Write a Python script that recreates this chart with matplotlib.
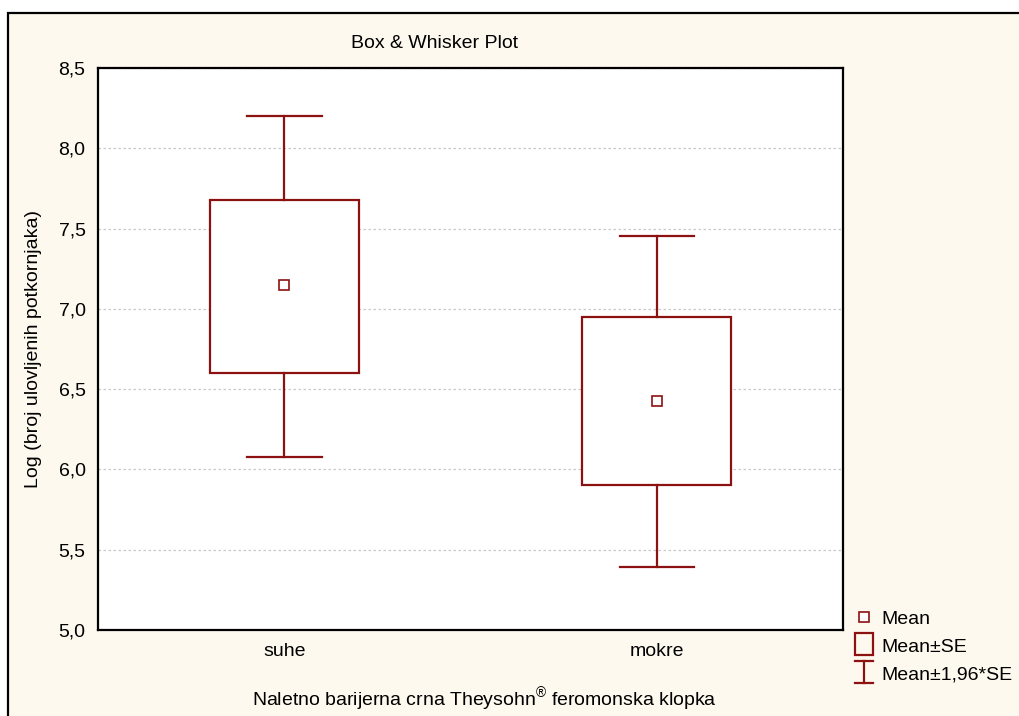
import matplotlib; matplotlib.use("Agg")
import matplotlib.pyplot as plt
from matplotlib.patches import Rectangle
from matplotlib.lines import Line2D

plt.rcParams["font.family"] = ["Liberation Sans", "DejaVu Sans"]
plt.rcParams["mathtext.fontset"] = "custom"
plt.rcParams["mathtext.rm"] = "Liberation Sans"

groups = ["suhe", "mokre"]
means = [7.149, 6.427]
se_low = [6.60, 5.90]
se_high = [7.68, 6.95]
ci_low = [6.08, 5.395]
ci_high = [8.20, 7.455]
yticks = [5.0, 5.5, 6.0, 6.5, 7.0, 7.5, 8.0, 8.5]

RED = "#8C1212"
CREAM = "#FEF9EE"
W, H = 1019, 716

fig = plt.figure(figsize=(W / 100, H / 100), dpi=100, facecolor="white")
# outer framed panel (behind the axes)
fig.add_artist(Rectangle((8 / W, -0.02), 1.05, 1 - 13 / H + 0.02, transform=fig.transFigure,
                         facecolor=CREAM, edgecolor="black", lw=1.6, zorder=-10))

ax = fig.add_axes([98 / W, 86 / H, (843 - 98) / W, (630 - 68) / H])
ax.set_facecolor("white")
x = range(1, len(groups) + 1)
bw, cw = 0.4, 0.2
for xi, m, sl, sh, cl, ch in zip(x, means, se_low, se_high, ci_low, ci_high):
    ax.add_patch(Rectangle((xi - bw / 2, sl), bw, sh - sl, facecolor="white", edgecolor=RED, lw=1.6, zorder=3))
    ax.plot([xi, xi], [sh, ch], color=RED, lw=1.6, zorder=3)
    ax.plot([xi, xi], [cl, sl], color=RED, lw=1.6, zorder=3)
    ax.plot([xi - cw / 2, xi + cw / 2], [ch, ch], color=RED, lw=1.6, zorder=3)
    ax.plot([xi - cw / 2, xi + cw / 2], [cl, cl], color=RED, lw=1.6, zorder=3)
    ax.plot([xi], [m], marker="s", ms=7, mfc="white", mec=RED, mew=1.2, zorder=4)

ax.set_xlim(0.5, 2.5)
ax.set_ylim(5.0, 8.5)
ax.set_xticks(list(x))
ax.set_xticklabels(groups, fontsize=14)
ax.set_yticks(yticks)
ax.set_yticklabels([f"{v:.1f}".replace(".", ",") for v in yticks], fontsize=14)
ax.tick_params(length=0, pad=9)
ax.yaxis.grid(True, color="#C8C8C8", ls=(0, (2, 2)), lw=0.9)
ax.set_axisbelow(True)
for s in ax.spines.values():
    s.set_linewidth(1.6)
ax.set_ylabel("Log (broj ulovljenih potkornjaka)", fontsize=14, labelpad=12)

fig.text(435 / W, 1 - 43 / H, "Box & Whisker Plot", fontsize=14, ha="center", va="center")
fig.text(484 / W, 1 - 700 / H, "Naletno barijerna crna Theysohn$^{®}$ feromonska klopka",
         fontsize=14, ha="center", va="center")

# legend
tf = fig.transFigure
fig.add_artist(Line2D([864 / W], [1 - 617 / H], marker="s", ms=7, mfc="white", mec=RED, mew=1.2, transform=tf))
fig.add_artist(Rectangle((855 / W, 1 - 655 / H), 18 / W, 22 / H, facecolor="none", edgecolor=RED, lw=1.6, transform=tf))
fig.add_artist(Line2D([864 / W, 864 / W], [1 - 661 / H, 1 - 683 / H], color=RED, lw=1.6, transform=tf))
fig.add_artist(Line2D([855 / W, 873 / W], [1 - 661 / H, 1 - 661 / H], color=RED, lw=1.6, transform=tf))
fig.add_artist(Line2D([855 / W, 873 / W], [1 - 683 / H, 1 - 683 / H], color=RED, lw=1.6, transform=tf))
for yy, t in ((620, "Mean"), (647, "Mean±SE"), (675, "Mean±1,96*SE")):
    fig.text(881 / W, 1 - yy / H, t, fontsize=14, ha="left", va="center")

fig.savefig("out.png", dpi=100)
